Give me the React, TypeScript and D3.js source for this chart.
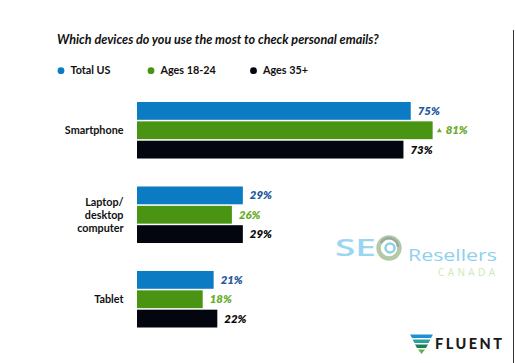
import React from "react";
import * as d3 from "d3";

const categories = ["Smartphone", "Laptop/desktop computer", "Tablet"];
const categoryLines = [["Smartphone"], ["Laptop/", "desktop", "computer"], ["Tablet"]];
const seriesNames = ["Total US", "Ages 18-24", "Ages 35+"];
const totalUS = [75, 29, 21];
const ages18to24 = [81, 26, 18];
const ages35plus = [73, 29, 22];
const ages18to24Up = [true, false, false];
const title = "Which devices do you use the most to check personal emails?";

const barColors = ["#0b7bc3", "#4a9414", "#03060f"];
const labelColors = ["#23599e", "#69ad2a", "#0a0a0a"];
const FONT = "Lato, 'Open Sans', sans-serif";

export default function App() {
  const W = 516;
  const H = 363;
  const seriesValues = [totalUS, ages18to24, ages35plus];

  const x = d3.scaleLinear().domain([0, 100]).range([137, 502]);
  const yGroup = d3
    .scaleBand<string>()
    .domain(categories)
    .range([102, 327.5])
    .paddingInner(0.331)
    .paddingOuter(0);
  const ySeries = d3
    .scaleBand<string>()
    .domain(seriesNames)
    .range([0, yGroup.bandwidth()])
    .paddingInner(0.08)
    .paddingOuter(0);

  const legendX = [61, 151, 253.5];

  return (
    <svg
      width={W}
      height={H}
      style={{ position: "absolute", left: 0, top: 0, background: "#fff" }}
      fontFamily={FONT}
    >
      <rect x={0} y={0} width={W} height={H} fill="#fff" />
      <line x1={513.5} x2={513.5} y1={30} y2={H} stroke="#333" strokeWidth={1} />

      <text x={57} y={43.5} fontSize={12.6} fontWeight={700} fontStyle="italic" fill="#111">
        {title}
      </text>

      {seriesNames.map((s, i) => (
        <g key={s}>
          <circle cx={legendX[i]} cy={70.7} r={3.4} fill={barColors[i]} />
          <text x={legendX[i] + 9.5} y={70.7} dy="0.35em" fontSize={10.8} fontWeight={700} fill="#111">
            {s}
          </text>
        </g>
      ))}

      {categories.map((c, ci) => {
        const g0 = yGroup(c)!;
        const mid = g0 + yGroup.bandwidth() / 2;
        const lines = categoryLines[ci];
        return (
          <g key={c}>
            {lines.map((ln, li) => (
              <text
                key={li}
                x={123.5}
                y={mid + (li - (lines.length - 1) / 2) * 13}
                dy="0.35em"
                textAnchor="end"
                fontSize={10.8}
                fontWeight={700}
                fill="#111"
              >
                {ln}
              </text>
            ))}
            {seriesNames.map((s, si) => {
              const v = seriesValues[si][ci];
              const by = g0 + ySeries(s)!;
              const bh = ySeries.bandwidth();
              const xe = x(v);
              const up = si === 1 && ages18to24Up[ci];
              return (
                <g key={s}>
                  <rect x={x(0)} y={by} width={xe - x(0)} height={bh} fill={barColors[si]} />
                  {up && (
                    <path
                      d={`M${xe + 4.2},${by + bh / 2 + 2} L${xe + 9.2},${by + bh / 2 + 2} L${xe + 6.7},${by + bh / 2 - 2.2} Z`}
                      fill={labelColors[si]}
                    />
                  )}
                  <text
                    x={xe + (up ? 13 : 7)}
                    y={by + bh / 2}
                    dy="0.35em"
                    fontSize={11.4}
                    fontWeight={800}
                    fontStyle="italic"
                    fill={labelColors[si]}
                  >
                    {v}%
                  </text>
                </g>
              );
            })}
          </g>
        );
      })}

      {/* watermark */}
      <g>
        <text x={335} y={256} fontSize={24} fontWeight={600} fill="#9bd6f1" fontFamily="'Open Sans', sans-serif" textLength={41} lengthAdjust="spacingAndGlyphs">
          SE
        </text>
        <circle cx={389} cy={248} r={10.5} fill="none" stroke="#b3c9a8" strokeWidth={4.5} />
        <path d="M381,243 A9,9 0 0 1 398,247" fill="none" stroke="#9aaa9c" strokeWidth={2.5} />
        <circle cx={390} cy={248} r={4.5} fill="none" stroke="#8fcfe9" strokeWidth={2.5} />
        <text x={408} y={261} fontSize={17} fontWeight={400} fill="#8fd0ee" fontFamily="'Open Sans', sans-serif" textLength={89} lengthAdjust="spacingAndGlyphs">
          Resellers
        </text>
        <text x={438} y={276} fontSize={10} fill="#cfe8b3" fontFamily="'Open Sans', sans-serif" textLength={57} lengthAdjust="spacing">
          CANADA
        </text>
      </g>

      {/* FLUENT logo */}
      <g>
        <path d="M410,334.5 L433,334.5 L431,338 L412,338 Z" fill="#1e8fcf" />
        <path d="M412.5,339.5 L430.5,339.5 L428.5,343 L414.5,343 Z" fill="#2aa3a0" />
        <path d="M415,344.5 L428,344.5 L426,348 L417,348 Z" fill="#1e7f54" />
        <path d="M418,349.5 L425,349.5 L421.5,354 Z" fill="#58b847" />
        <text x={435} y={349} fontSize={14.5} fontWeight={900} fill="#1a1a1a" textLength={67} lengthAdjust="spacing">
          FLUENT
        </text>
      </g>
    </svg>
  );
}
